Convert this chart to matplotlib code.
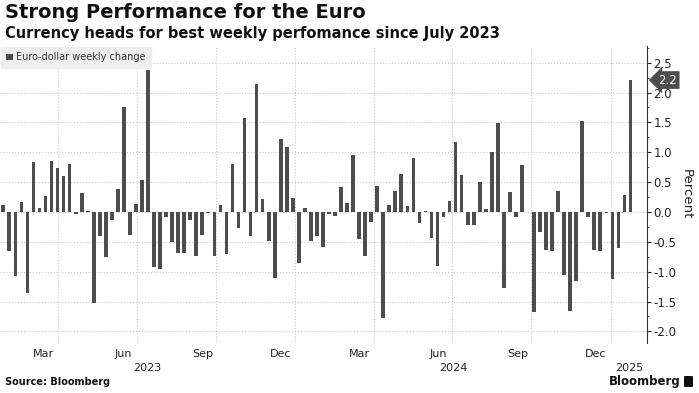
import matplotlib
matplotlib.use("Agg")
import matplotlib.pyplot as plt
import matplotlib.dates as mdates
import matplotlib.transforms as mtransforms
from matplotlib.patches import FancyBboxPatch
from matplotlib.ticker import FormatStrFormatter, MultipleLocator
import pandas as pd

plt.rcParams["font.family"] = ["DejaVu Sans"]
plt.rcParams["axes.unicode_minus"] = False

# weekly EUR/USD change, percent (week ending Friday)
weeks = pd.date_range("2023-01-27", "2025-01-24", freq="W-FRI")
changes = [
    0.12, -0.66, -1.07, 0.16, -1.36, 0.83, 0.07, 0.26, 0.85, 0.74,
    0.60, 0.80, -0.04, 0.31, 0.01, -1.52, -0.40, -0.75, -0.13, 0.39,
    1.75, -0.38, 0.14, 0.53, 2.38, -0.92, -0.96, -0.09, -0.50, -0.68,
    -0.69, -0.14, -0.73, -0.39, -0.02, -0.74, 0.12, -0.70, 0.80, -0.27,
    1.57, -0.41, 2.14, 0.22, -0.49, -1.10, 1.22, 1.09, 0.23, -0.85,
    0.07, -0.48, -0.41, -0.59, -0.03, -0.06, 0.42, 0.15, 0.95, -0.46,
    -0.73, -0.17, 0.44, -1.77, 0.12, 0.35, 0.64, 0.10, 0.91, -0.19,
    0.01, -0.43, -0.90, -0.09, 0.19, 1.18, 0.62, -0.22, -0.22, 0.51,
    0.05, 1.00, 1.49, -1.27, 0.33, -0.08, 0.79, 0.00, -1.67, -0.33,
    -0.63, -0.65, 0.35, -1.06, -1.66, -1.15, 1.52, -0.08, -0.63, -0.66,
    -0.02, -1.12, -0.61, 0.28, 2.21,
]
series_name = "Euro-dollar weekly change"
month_ticks = pd.to_datetime(["2023-03-15", "2023-06-15", "2023-09-15", "2023-12-15",
                              "2024-03-15", "2024-06-15", "2024-09-15", "2024-12-15"])
years = [2023, 2024, 2025]

bar_color = "#4d4d4d"
grid_color = "#c8c8c8"

W, H = 699, 393
fig = plt.figure(figsize=(W / 100, H / 100), dpi=100)
ax = fig.add_axes([0.0, 1 - 343.3 / H, 647.3 / W, (343.3 - 46) / H])

ax.bar(weeks, changes, width=4.3, color=bar_color, linewidth=0, zorder=3, label=series_name)

x0 = pd.Timestamp("2023-01-23 04:00")
x1 = pd.Timestamp("2025-02-12 12:00")
ax.set_xlim(x0, x1)
ax.set_ylim(-2.2, 2.78)

for side in ["top", "left", "bottom"]:
    ax.spines[side].set_visible(False)
ax.spines["right"].set_color("#333333")
ax.spines["right"].set_linewidth(0.8)

# y axis on the right
ax.yaxis.tick_right()
ax.yaxis.set_label_position("right")
ax.set_yticks([-2.0, -1.5, -1.0, -0.5, 0.0, 0.5, 1.0, 1.5, 2.0, 2.5])
ax.yaxis.set_major_formatter(FormatStrFormatter("%.1f"))
ax.yaxis.set_minor_locator(MultipleLocator(0.25))
ax.tick_params(axis="y", which="major", length=3, width=0.8, pad=1.5,
               labelsize=8.5, colors="#222222")
ax.tick_params(axis="y", which="minor", length=1.5, width=0.6, colors="#333333")
ax.set_ylabel("Percent", rotation=270, fontsize=9.5, labelpad=12, color="#222222")

# x axis: month names mid-month, gridlines at quarter starts
ax.set_xticks(month_ticks)
ax.xaxis.set_major_formatter(mdates.DateFormatter("%b"))
ax.xaxis.set_minor_locator(mdates.MonthLocator(bymonth=[1, 4, 7, 10]))
ax.tick_params(axis="x", which="both", length=0, pad=4, labelsize=8, colors="#222222")

ax.grid(axis="y", which="major", linestyle=":", color=grid_color, linewidth=0.8, zorder=0)
ax.grid(axis="x", which="minor", linestyle=":", color=grid_color, linewidth=0.8, zorder=0)
ax.set_axisbelow(True)

# year labels centred on the visible part of each year
trans = mtransforms.blended_transform_factory(ax.transData, ax.transAxes)
for yr in years:
    a = max(x0, pd.Timestamp(f"{yr}-01-01"))
    b = min(x1, pd.Timestamp(f"{yr + 1}-01-01"))
    ax.text(a + (b - a) / 2, -0.082, str(yr), transform=trans, ha="center", va="center",
            fontsize=8, color="#222222")

# legend box top-left
leg = ax.legend(loc="upper left", bbox_to_anchor=(0.0, 1.0), borderaxespad=0.1,
                fancybox=False, framealpha=1, facecolor="#eeeeee", edgecolor="#eeeeee",
                fontsize=7, handlelength=0.7, handleheight=0.7, handletextpad=0.3,
                borderpad=0.55)
for t in leg.get_texts():
    t.set_color("#333333")

# last value tag
ytrans = mtransforms.blended_transform_factory(ax.transAxes, ax.transData)
ax.annotate(f"{changes[-1]:.1f}", xy=(1.0, changes[-1]), xycoords=ytrans,
            xytext=(8, 0), textcoords="offset points", ha="left", va="center",
            fontsize=8.5, color="white", annotation_clip=False, zorder=10,
            bbox=dict(boxstyle="larrow,pad=0.2", fc=bar_color, ec="none"))

# titles
fig.text(5 / W, 1 - 3 / H, "Strong Performance for the Euro", fontsize=14,
         fontweight="bold", ha="left", va="top", color="#111111")
fig.text(5 / W, 1 - 26 / H, "Currency heads for best weekly perfomance since July 2023",
         fontsize=10.5, fontweight="bold", ha="left", va="top", color="#111111")

# footer
fig.text(5 / W, 1 - 382 / H, "Source: Bloomberg", fontsize=7, fontweight="bold",
         ha="left", va="center", color="#111111")
fig.text(681 / W, 1 - 381 / H, "Bloomberg", fontsize=8.5, fontweight="bold",
         ha="right", va="center", color="#111111")
fig.patches.append(FancyBboxPatch((684 / W, 1 - 387 / H), 9 / W, 11 / H,
                                  boxstyle="round,pad=0,rounding_size=0.002",
                                  transform=fig.transFigure, fc="#111111", ec="none"))

fig.savefig("out.png", dpi=100)
